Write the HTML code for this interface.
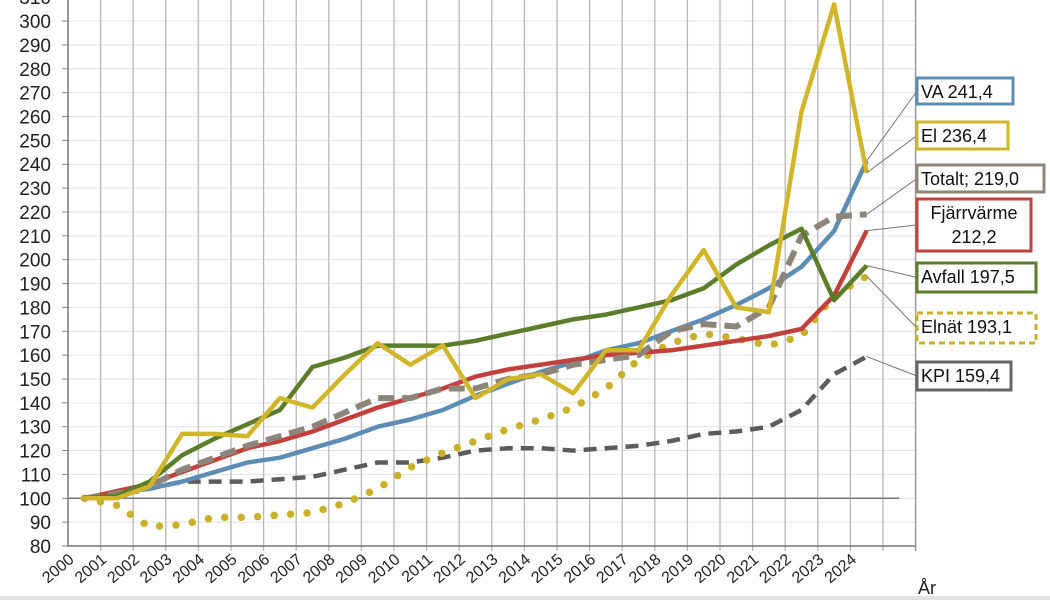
<!DOCTYPE html>
<html><head><meta charset="utf-8"><style>
body{margin:0;background:#fff;}
svg{display:block;font-family:"Liberation Sans",Arial,sans-serif;}
</style></head><body>
<svg id="chart" width="1050" height="600" viewBox="0 0 1050 600">
<rect x="0" y="596" width="1050" height="4" fill="#e2e2e2"/>
<g id="grid"></g>
<g id="axes"></g>
<g id="series"></g>
<g id="labels"></g>
<text x="918" y="594" font-size="18" fill="#222">År</text>
</svg>
<script>
const years = ["2000","2001","2002","2003","2004","2005","2006","2007","2008","2009","2010","2011","2012","2013","2014","2015","2016","2017","2018","2019","2020","2021","2022","2023","2024"];
const yTicks = [80,90,100,110,120,130,140,150,160,170,180,190,200,210,220,230,240,250,260,270,280,290,300,310];
const va = [100,102,104,107,111,115,117,121,125,130,133,137,143,148,153,157,162,165,170,175,181,188,197,212,241.4];
const el = [100,100,105,127,127,126,142,138,152,165,156,164,142,150,152,144,162,162,185,204,180,178,262,307,236.4];
const totalt = [100,102,105,112,117,122,126,130,136,142,142,146,146,150,152,156,158,160,170,173,172,180,210,218,219.0];
const fjarr = [100,103,106,111,116,121,124,128,133,138,142,146,151,154,156,158,160,161,162,164,166,168,171,185,212.2];
const avfall = [100,101,107,118,125,131,137,155,159,164,164,164,166,169,172,175,177,180,183,188,198,206,213,183,197.5];
const elnat = [100,97,88,89,92,92,93,94,98,104,113,119,124,129,133,138,146,158,165,169,167,164,168,185,193.1];
const kpi = [100,101,104,107,107,107,108,109,112,115,115,117,120,121,121,120,121,122,124,127,128,130,137,152,159.4];
const seriesLabels = ["VA 241,4","El 236,4","Totalt; 219,0","Fjärrvärme|212,2","Avfall 197,5","Elnät 193,1","KPI 159,4"];

const NS="http://www.w3.org/2000/svg";
const X0=68, DX=32.6, Y0=546, DY=2.386;
const xTick=i=>X0+DX*i;
const xPt=i=>X0+DX*(i+0.5);
const yS=v=>Y0-(v-80)*DY;
function mk(tag,attrs,parent){const e=document.createElementNS(NS,tag);for(const k in attrs)e.setAttribute(k,attrs[k]);parent.appendChild(e);return e;}
const grid=document.getElementById('grid'),axes=document.getElementById('axes'),ser=document.getElementById('series'),lab=document.getElementById('labels');
const RIGHT=xTick(26);
yTicks.forEach(v=>{
  const l=mk('line',{x1:X0,x2:RIGHT,y1:yS(v),y2:yS(v),stroke:'#e2e2e2','stroke-width':1},grid);
  
  
  const t=mk('line',{x1:X0-6,x2:X0,y1:yS(v),y2:yS(v),stroke:'#888','stroke-width':1},axes);
  
  
  const tx=mk('text',{x:51,y:yS(v)+7,'font-size':19,'text-anchor':'end',fill:'#222'},axes);
  tx.textContent=v;
  
  
});
for(let i=1;i<=26;i++){
  const l=mk('line',{x1:xTick(i),x2:xTick(i),y1:-5,y2:Y0+5,stroke:i==26?'#999':'#b8b8b8','stroke-width':i==26?1.5:1.3},grid);
  
  
}
years.forEach((y,i)=>{
  const tx=mk('text',{x:0,y:0,'font-size':16,'text-anchor':'end',fill:'#222',transform:`translate(${xTick(i)+7},${Y0+15}) rotate(-40)`},axes);
  tx.textContent=y;
  
  
});
const ax=mk('path',{d:`M${X0},-5 V${Y0} H${RIGHT}`,fill:'none',stroke:'#777','stroke-width':1.5},axes);


const base=mk('line',{x1:X0,x2:xTick(25.5),y1:yS(100),y2:yS(100),stroke:'#777','stroke-width':1.5},axes);



function pts(arr){return arr.map((v,i)=>xPt(i).toFixed(1)+','+yS(v).toFixed(1)).join(' ');}
const defs=[
 {d:kpi,c:'#5c5c5c',w:4.5,da:'13 8',n:'kpi-line'},
 {d:elnat,c:'#c9b22a',w:7.5,da:'0 16.5',n:'elnat-line',cap:'round'},
 {d:va,c:'#5d8db5',w:4.5,n:'va-line'},
 {d:fjarr,c:'#c4403d',w:4.5,n:'fjarrvarme-line'},
 {d:totalt,c:'#8e857a',w:6,da:'16 8',n:'totalt-line'},
 {d:avfall,c:'#5c7d2a',w:4.5,n:'avfall-line'},
 {d:el,c:'#d2b62a',w:4.5,n:'el-line'}
];
defs.forEach(s=>{
  const p=mk('polyline',{points:pts(s.d),fill:'none',stroke:s.c,'stroke-width':s.w,'stroke-linejoin':'round','stroke-linecap':s.cap||'butt'},ser);
  if(s.da)p.setAttribute('stroke-dasharray',s.da);
  
  
});
const boxes=[
 {arr:va,y:78,h:26,w:96,c:'#5d8db5'},
 {arr:el,y:122,h:27,w:91,c:'#d2b62a'},
 {arr:totalt,y:165,h:27,w:127,c:'#8e857a'},
 {arr:fjarr,y:199,h:52,w:114,c:'#c4403d'},
 {arr:avfall,y:263,h:29,w:119,c:'#5c7d2a'},
 {arr:elnat,y:313,h:30,w:119,c:'#c9b22a',dash:true},
 {arr:kpi,y:362,h:28,w:94,c:'#666'}
];
const names=['va-label','el-label','totalt-label','fjarrvarme-label','avfall-label','elnat-label','kpi-label'];
boxes.forEach((b,k)=>{
  const bx=917;
  const ex=xPt(24),ey=yS(b.arr[24]);
  const ln=mk('line',{x1:ex,y1:ey,x2:bx,y2:b.y+b.h/2,stroke:'#777','stroke-width':1},lab);
  
  
  const r=mk('rect',{x:bx,y:b.y,width:b.w,height:b.h,fill:'#fff',stroke:b.c,'stroke-width':3},lab);
  if(b.dash)r.setAttribute('stroke-dasharray','6 4');
  
  
  const parts=seriesLabels[k].split('|');
  parts.forEach((t,j)=>{
    const tx=mk('text',{x:parts.length>1?bx+b.w/2:bx+4,y:b.y+20+j*24,'font-size':18,fill:'#111','text-anchor':parts.length>1?'middle':'start'},lab);
    tx.textContent=t;
    
    
  });
});
</script>
</body></html>
